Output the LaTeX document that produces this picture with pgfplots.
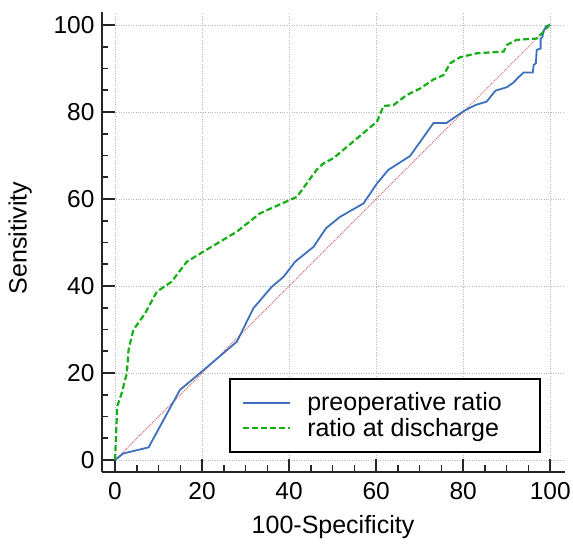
\documentclass[border=0pt]{standalone}
\usepackage{fontspec}
\setmainfont{Liberation Sans}
\usepackage{pgfplots}
\pgfplotsset{compat=1.18}
\definecolor{rocblue}{RGB}{62,112,190}
\definecolor{rocgreen}{RGB}{20,175,20}
\definecolor{diagred}{RGB}{225,105,105}
\definecolor{gridgray}{RGB}{185,185,185}

\begin{document}
\begin{tikzpicture}
  \path[use as bounding box] (-102pt,-79pt) rectangle (471pt,472pt);
  \begin{axis}[
    at={(0pt,0pt)}, anchor=south west,
    scale only axis,
    width=463pt, height=460pt,
    xmin=-3, xmax=103.4,
    ymin=-2.76, ymax=103,
    axis lines=left,
    axis line style={-, line width=1.8pt, black!85},
    tick align=inside,
    major tick length=13pt,
    minor tick length=6.5pt,
    tick style={line width=1.6pt, black!85},
    xtick={0,20,...,100}, ytick={0,20,...,100},
    minor tick num=3,
    grid=major,
    major grid style={dotted, gridgray, line width=0.9pt},
    /pgf/number format/assume math mode=true,
    tick label style={font=\fontsize{24.5}{29}\selectfont},
    yticklabel style={xshift=-4pt},
    xticklabel style={yshift=-7pt},
    xlabel={100-Specificity},
    ylabel={Sensitivity},
    every axis x label/.style={at={(axis description cs:0.499,-0.12)}, anchor=center,
      font=\fontsize{25}{30}\selectfont},
    every axis y label/.style={at={(axis description cs:-0.177,0.509)}, rotate=90, anchor=center,
      font=\fontsize{25}{30}\selectfont},
    legend style={at={(axis cs:26.2,1.6)}, anchor=south west,
      draw=black, line width=2pt, font=\fontsize{25}{29}\selectfont,
      inner xsep=12pt, inner ysep=12pt, row sep=2pt,
      /tikz/every odd column/.style={column sep=14pt}},
    legend cell align=left,
    legend image code/.code={\draw[#1] (0pt,0pt) -- (47pt,0pt);},
  ]
    \addplot[diagred, densely dotted, line width=1pt, forget plot] coordinates {(0,0) (100,100)};

    \addplot[rocblue, line width=1.8pt] coordinates {
      (0,0) (1.9,1.5) (7.7,2.9) (14.9,16.1) (19.9,20.3) (28,27.2)
      (31.8,34.9) (36,39.8) (38.7,42.1) (41.4,45.6) (45.6,49) (48.5,53.3)
      (51.7,55.9) (57.1,59) (60.2,63.6) (62.8,66.7) (67.8,69.9) (73.2,77.5)
      (76.2,77.5) (80.1,80.2) (82.8,81.6) (85.4,82.4) (87.4,84.9) (90,85.7)
      (91.6,86.8) (92.7,88) (93.9,89.1) (96,89.1) (96.2,90.8) (96.7,91.2)
      (96.9,94.3) (97.8,94.6) (97.8,96.9) (98.2,97.2) (98.5,98.7) (99.1,99.8) (100,100)
    };
    \addlegendentry{preoperative ratio\rule{24pt}{0pt}}

    \addplot[rocgreen, dashed, dash pattern=on 6pt off 3pt, line width=2.2pt] coordinates {
      (0,0) (0.5,12.3) (1.5,15.3) (2.7,19.9) (3.1,25.3) (4.2,29.9) (6.9,33.7)
      (9.6,38.7) (13,41) (16.5,45.6) (20.3,47.9) (28,52.5) (33.3,56.7)
      (40.2,59.8) (41.8,60.5) (46.3,66.7) (47.9,68.2) (50.2,69.4) (60.2,77.8)
      (61.7,81.4) (64,81.6) (67,83.9) (70.1,85.4) (73.2,87.5) (75.5,88.5)
      (77,91.2) (79.3,92.6) (83.1,93.5) (89.3,93.9) (90,95.4) (92.3,96.6)
      (96.9,96.9) (98.1,98.1) (98.9,99) (99.8,100) (100,100)
    };
    \addlegendentry{ratio at discharge}
  \end{axis}
\end{tikzpicture}
\end{document}
